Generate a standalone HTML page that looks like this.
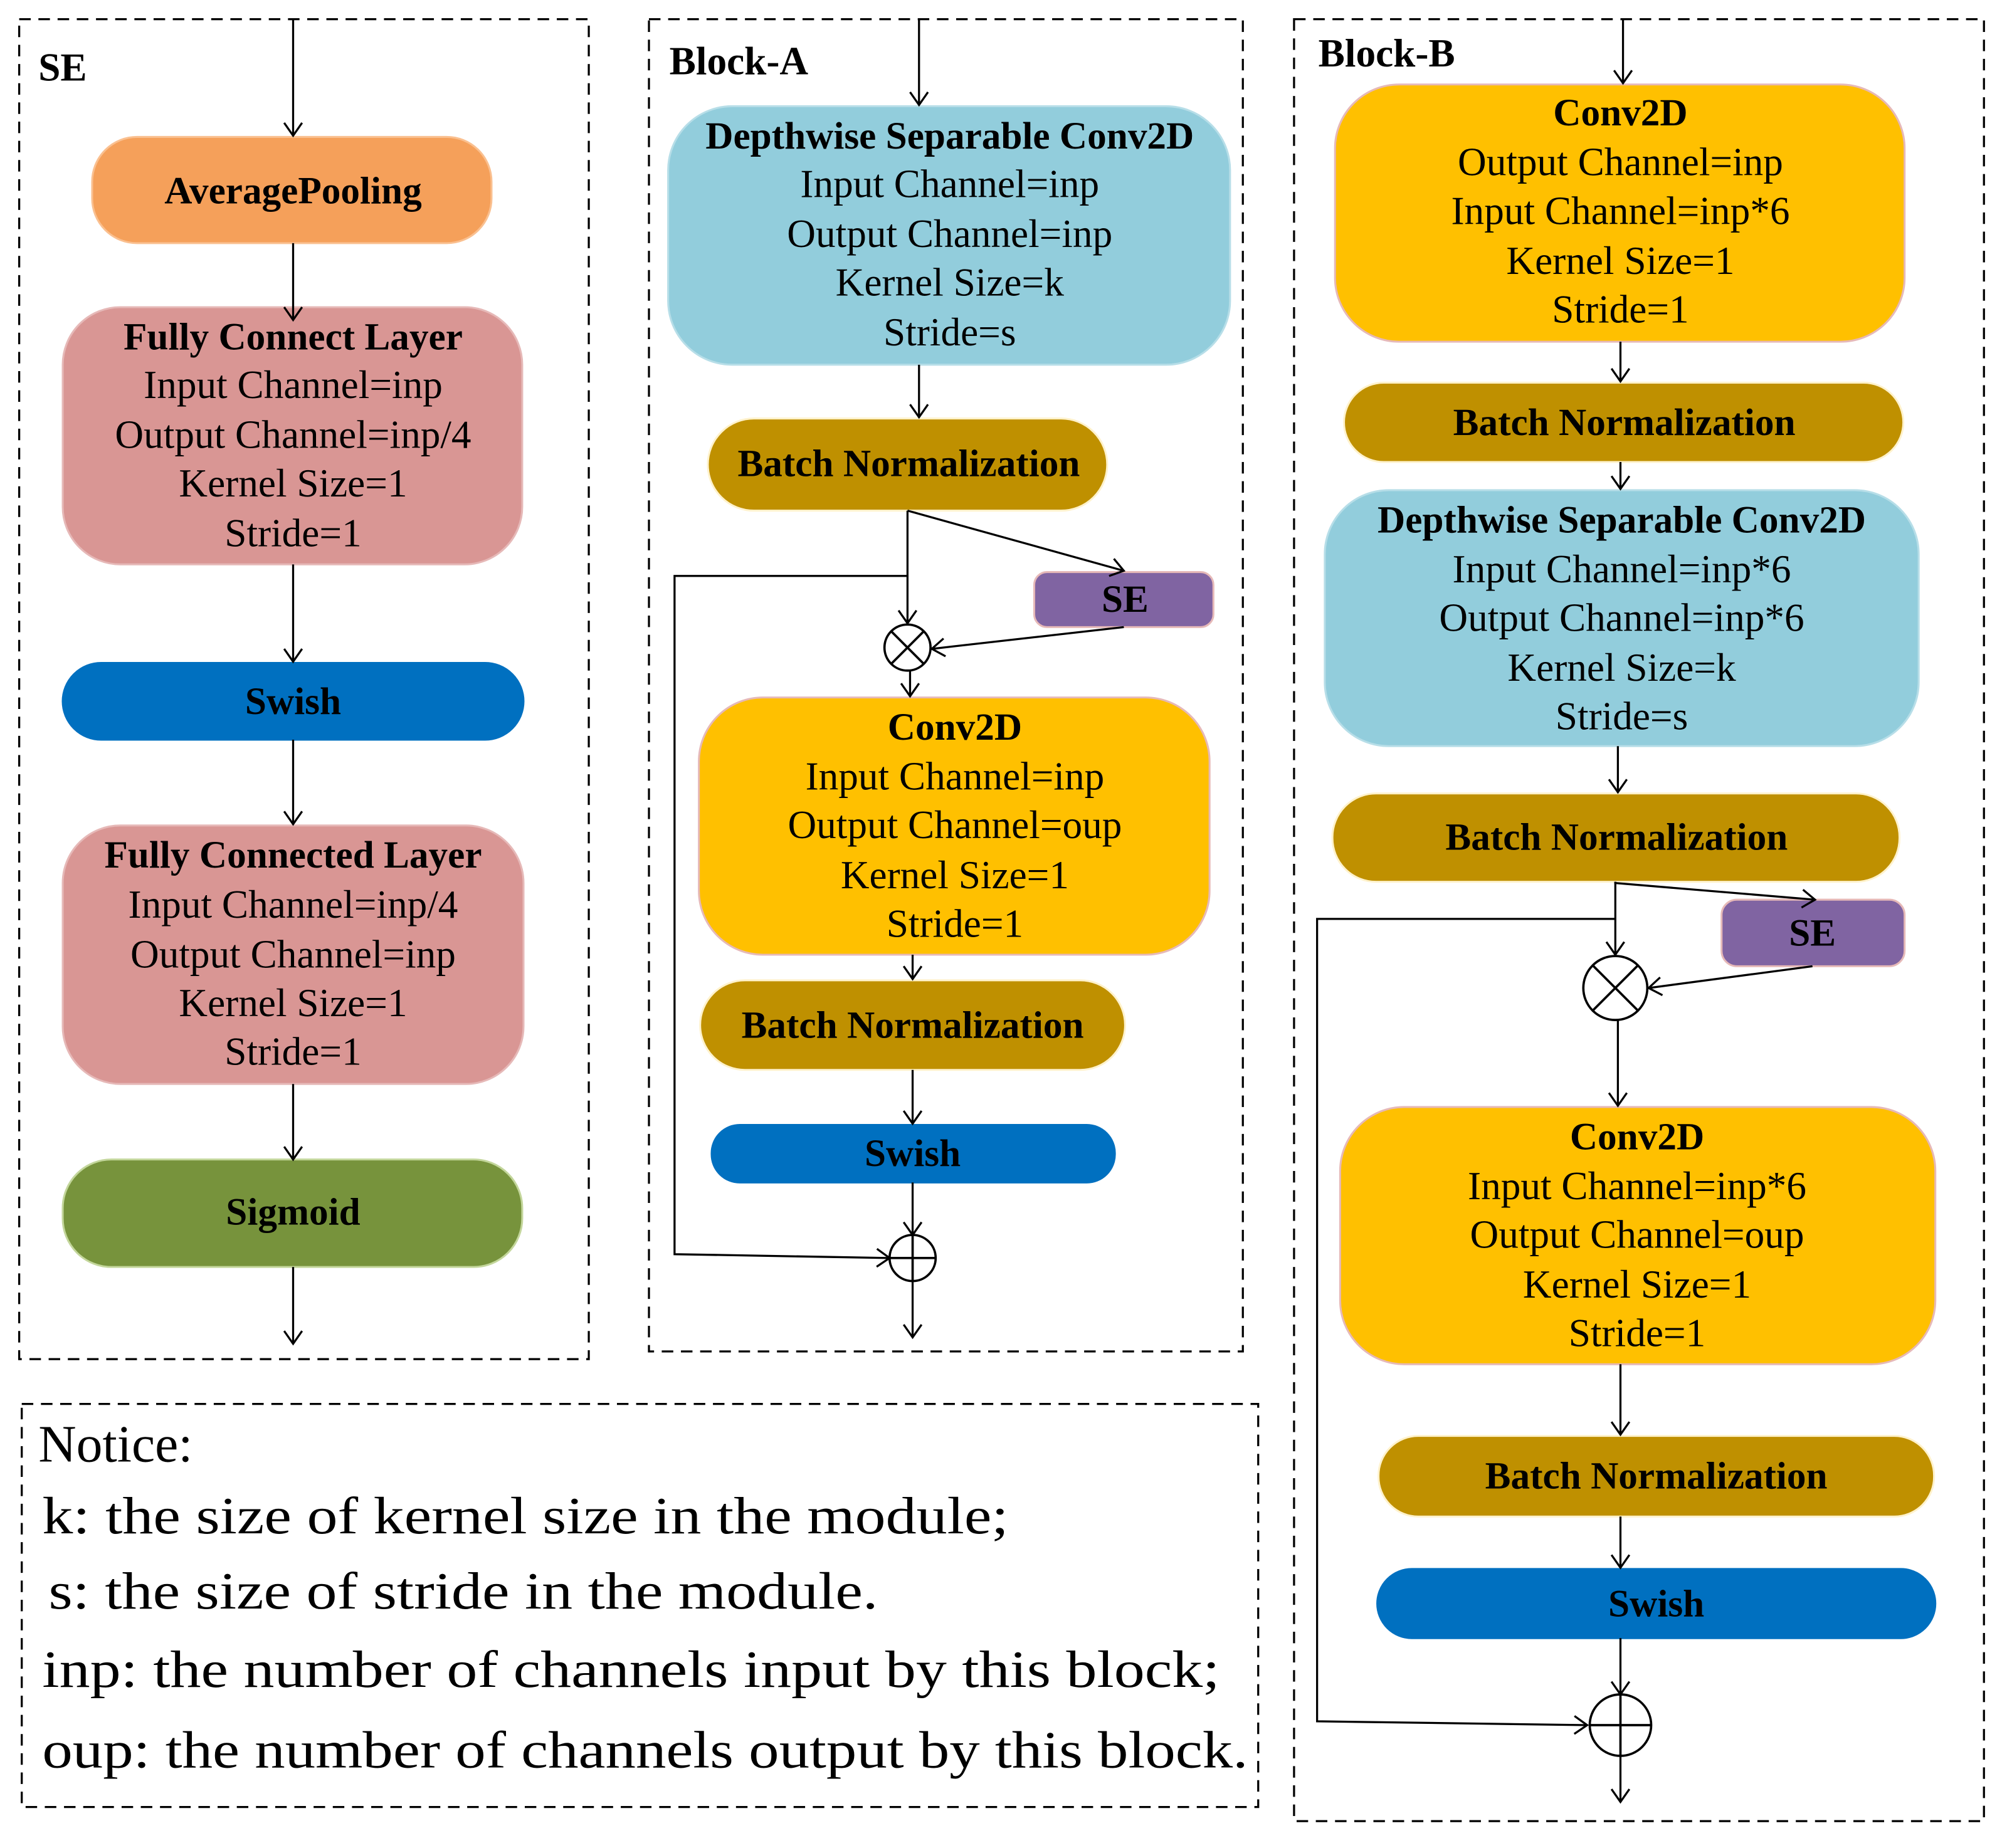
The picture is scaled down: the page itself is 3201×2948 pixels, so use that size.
<!DOCTYPE html>
<html><head><meta charset="utf-8"><style>html,body{margin:0;padding:0;background:#fff}svg{display:block}</style></head>
<body>
<svg width="3201" height="2948" viewBox="0 0 1568 1444" preserveAspectRatio="none" xmlns="http://www.w3.org/2000/svg" font-family="'Liberation Serif', serif">
<defs>
<marker id="a" markerUnits="userSpaceOnUse" markerWidth="24" markerHeight="24" refX="12" refY="12" orient="auto">
<path d="M2,5 L12,12 L2,19" fill="none" stroke="#000" stroke-width="1.6"/>
</marker>
</defs>
<g fill="none" stroke="#000" stroke-width="1.6" stroke-dasharray="9,6">
<rect x="15" y="15" width="445" height="1047"/>
<rect x="507" y="15" width="464" height="1041"/>
<rect x="1011" y="15" width="539" height="1408"/>
<rect x="17" y="1097" width="966" height="315"/>
</g>
<g font-weight="bold" font-size="31" fill="#000">
<text x="30" y="63">SE</text>
<text x="523" y="58">Block-A</text>
<text x="1030" y="52">Block-B</text>
</g>
<g stroke-width="1.5">
<rect x="72" y="107" width="312" height="83" rx="35" fill="#F5A05A" stroke="#FAC090"/>
<rect x="49" y="240" width="359" height="201" rx="45" fill="#D99694" stroke="#E6B9B8"/>
<rect x="49" y="518" width="360" height="60" rx="30" fill="#0070C0" stroke="#0070C0"/>
<rect x="49" y="645" width="360" height="202" rx="45" fill="#D99694" stroke="#E6B9B8"/>
<rect x="49" y="906" width="359" height="84" rx="38" fill="#77933C" stroke="#C3D69B"/>
<rect x="522" y="83" width="439" height="202" rx="50" fill="#92CDDC" stroke="#B7DEE8"/>
<rect x="553" y="327" width="312" height="72" rx="36" fill="#BF9000" stroke="#FFF2CC"/>
<rect x="808" y="447" width="140" height="43" rx="10" fill="#8064A2" stroke="#E6B9B8"/>
<rect x="546" y="545" width="399" height="201" rx="50" fill="#FFC000" stroke="#E6B9B8"/>
<rect x="547" y="766" width="332" height="70" rx="35" fill="#BF9000" stroke="#FFF2CC"/>
<rect x="556" y="879" width="315" height="45" rx="22" fill="#0070C0" stroke="#0070C0"/>
<rect x="1043" y="66" width="445" height="201" rx="50" fill="#FFC000" stroke="#E6B9B8"/>
<rect x="1050" y="299" width="437" height="62" rx="31" fill="#BF9000" stroke="#FFF2CC"/>
<rect x="1035" y="383" width="464" height="200" rx="50" fill="#92CDDC" stroke="#B7DEE8"/>
<rect x="1041" y="620" width="443" height="69" rx="34" fill="#BF9000" stroke="#FFF2CC"/>
<rect x="1345" y="703" width="143" height="52" rx="12" fill="#8064A2" stroke="#E6B9B8"/>
<rect x="1047" y="865" width="465" height="201" rx="50" fill="#FFC000" stroke="#E6B9B8"/>
<rect x="1077" y="1122" width="434" height="63" rx="31" fill="#BF9000" stroke="#FFF2CC"/>
<rect x="1076" y="1226" width="436" height="54" rx="27" fill="#0070C0" stroke="#0070C0"/>
</g>
<g stroke="#000" stroke-width="1.6" fill="none" marker-end="url(#a)">
<line x1="229" y1="15" x2="229" y2="106"/>
<line x1="229" y1="190" x2="229" y2="250"/>
<line x1="229" y1="441" x2="229" y2="517"/>
<line x1="229" y1="578" x2="229" y2="644"/>
<line x1="229" y1="847" x2="229" y2="906"/>
<line x1="229" y1="990" x2="229" y2="1050"/>
<line x1="718" y1="15" x2="718" y2="82"/>
<line x1="718" y1="285" x2="718" y2="326"/>
<line x1="709" y1="399" x2="709" y2="487"/>
<polyline points="709,399 878,446"/>
<line x1="878" y1="490" x2="728" y2="507"/>
<polyline points="709,450 527,450 527,980 695,983"/>
<line x1="711" y1="524" x2="711" y2="544"/>
<line x1="713" y1="746" x2="713" y2="765"/>
<line x1="713" y1="836" x2="713" y2="878"/>
<line x1="713" y1="924" x2="713" y2="965"/>
<line x1="713" y1="1001" x2="713" y2="1045"/>
<line x1="1268" y1="15" x2="1268" y2="65"/>
<line x1="1266" y1="267" x2="1266" y2="298"/>
<line x1="1266" y1="361" x2="1266" y2="382"/>
<line x1="1264" y1="583" x2="1264" y2="619"/>
<polyline points="1262,689 1262,690 1418,703"/>
<line x1="1262" y1="689" x2="1262" y2="746"/>
<line x1="1416" y1="755" x2="1288" y2="772"/>
<polyline points="1262,718 1029,718 1029,1345 1240,1348"/>
<line x1="1264" y1="797" x2="1264" y2="864"/>
<line x1="1266" y1="1066" x2="1266" y2="1121"/>
<line x1="1266" y1="1185" x2="1266" y2="1225"/>
<line x1="1266" y1="1280" x2="1266" y2="1324"/>
<line x1="1266" y1="1372" x2="1266" y2="1408"/>
</g>
<g stroke="#000" stroke-width="1.8" fill="none">
<circle cx="709" cy="506" r="18"/>
<line x1="696" y1="493" x2="722" y2="519"/><line x1="722" y1="493" x2="696" y2="519"/>
<circle cx="713" cy="983" r="18"/>
<line x1="695" y1="983" x2="731" y2="983"/><line x1="713" y1="965" x2="713" y2="1001"/>
<circle cx="1262" cy="772" r="25"/>
<line x1="1244" y1="754" x2="1280" y2="790"/><line x1="1280" y1="754" x2="1244" y2="790"/>
<circle cx="1266" cy="1348" r="24"/>
<line x1="1242" y1="1348" x2="1290" y2="1348"/><line x1="1266" y1="1324" x2="1266" y2="1372"/>
</g>
<g font-size="30" fill="#000" text-anchor="middle">
<g font-weight="bold">
<text x="229" y="159">AveragePooling</text>
<text x="229" y="273">Fully Connect Layer</text>
<text x="229" y="558">Swish</text>
<text x="229" y="678">Fully Connected Layer</text>
<text x="229" y="957">Sigmoid</text>
<text x="742" y="116">Depthwise Separable Conv2D</text>
<text x="710" y="372">Batch Normalization</text>
<text x="879" y="478">SE</text>
<text x="746" y="578">Conv2D</text>
<text x="713" y="811">Batch Normalization</text>
<text x="713" y="911">Swish</text>
<text x="1266" y="98">Conv2D</text>
<text x="1269" y="340">Batch Normalization</text>
<text x="1267" y="416">Depthwise Separable Conv2D</text>
<text x="1263" y="664">Batch Normalization</text>
<text x="1416" y="739">SE</text>
<text x="1279" y="898">Conv2D</text>
<text x="1294" y="1163">Batch Normalization</text>
<text x="1294" y="1263">Swish</text>
</g>
<g font-size="31">
<text x="229" y="311">Input Channel=inp</text>
<text x="229" y="350">Output Channel=inp/4</text>
<text x="229" y="388">Kernel Size=1</text>
<text x="229" y="427">Stride=1</text>
<text x="229" y="717">Input Channel=inp/4</text>
<text x="229" y="756">Output Channel=inp</text>
<text x="229" y="794">Kernel Size=1</text>
<text x="229" y="832">Stride=1</text>
<text x="742" y="154">Input Channel=inp</text>
<text x="742" y="193">Output Channel=inp</text>
<text x="742" y="231">Kernel Size=k</text>
<text x="742" y="270">Stride=s</text>
<text x="746" y="617">Input Channel=inp</text>
<text x="746" y="655">Output Channel=oup</text>
<text x="746" y="694">Kernel Size=1</text>
<text x="746" y="732">Stride=1</text>
<text x="1266" y="137">Output Channel=inp</text>
<text x="1266" y="175">Input Channel=inp*6</text>
<text x="1266" y="214">Kernel Size=1</text>
<text x="1266" y="252">Stride=1</text>
<text x="1267" y="455">Input Channel=inp*6</text>
<text x="1267" y="493">Output Channel=inp*6</text>
<text x="1267" y="532">Kernel Size=k</text>
<text x="1267" y="570">Stride=s</text>
<text x="1279" y="937">Input Channel=inp*6</text>
<text x="1279" y="975">Output Channel=oup</text>
<text x="1279" y="1014">Kernel Size=1</text>
<text x="1279" y="1052">Stride=1</text>
</g>
</g>
<g font-size="41" fill="#000">
<text x="30" y="1142">Notice:</text>
<text x="33" y="1198" textLength="755" lengthAdjust="spacingAndGlyphs">k: the size of kernel size in the module;</text>
<text x="38" y="1257" textLength="648" lengthAdjust="spacingAndGlyphs">s: the size of stride in the module.</text>
<text x="33" y="1318" textLength="920" lengthAdjust="spacingAndGlyphs">inp: the number of channels input by this block;</text>
<text x="33" y="1381" textLength="942" lengthAdjust="spacingAndGlyphs">oup: the number of channels output by this block.</text>
</g>
</svg>
</body></html>
